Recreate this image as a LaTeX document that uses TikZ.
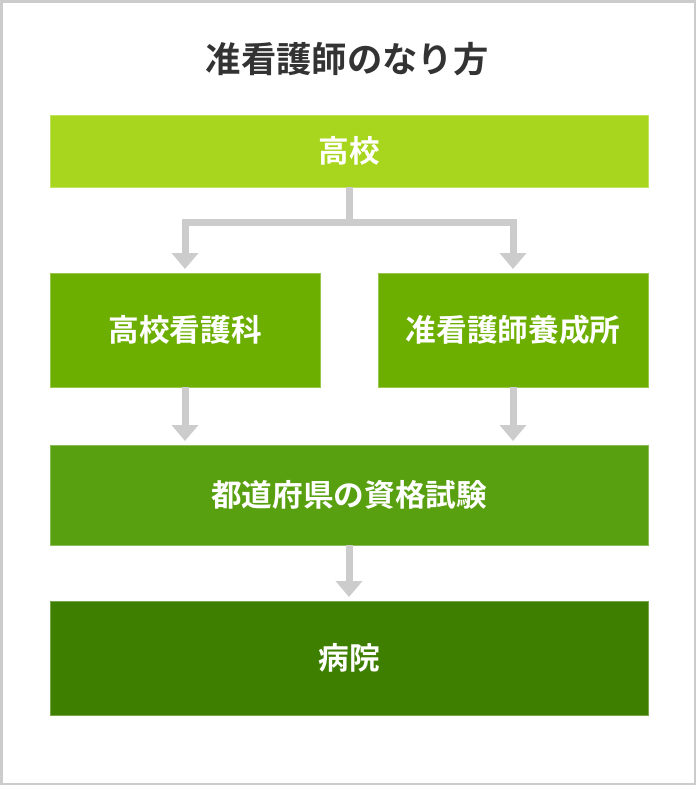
\documentclass[tikz,border=0pt]{standalone}
\usepackage{fontspec}
\setmainfont{Noto Sans CJK JP}[BoldFont={Noto Sans CJK JP Bold}]
\usetikzlibrary{positioning,arrows.meta}

\definecolor{gOne}{HTML}{A8D51E}
\definecolor{gTwo}{HTML}{6DAF00}
\definecolor{gThree}{HTML}{58A010}
\definecolor{gFour}{HTML}{3F7F00}
\definecolor{titlegray}{HTML}{333333}
\definecolor{flowgray}{HTML}{CCCCCC}

\tikzset{
  stepbox/.style={minimum width=448.5pt, inner sep=0pt, outer sep=0pt,
    text=white, font=\bfseries\fontsize{23}{26}\selectfont, line width=0.75pt},
  midbox/.style={stepbox, minimum width=202.5pt, minimum height=85.5pt},
  flow/.style={draw=flowgray, line width=5.25pt, shorten >=3pt,
    -{Triangle[width=19.5pt, length=12pt]}},
}

\begin{document}
\begin{tikzpicture}[x=0.75pt, y=-0.75pt]

    \useasboundingbox (0,0) rectangle (696,785);
    \draw[flowgray, line width=1.875pt] (1.25,1.25) rectangle (694.75,783.75);

    \node[text=titlegray, font=\bfseries\fontsize{26.5}{30}\selectfont] (title) at (347,59) {准看護師のなり方};

    \node[stepbox, fill=gOne, draw=gOne!70!white, minimum height=54pt] (koukou) at (349,151) {高校};
    \node[midbox, fill=gTwo, draw=gTwo!70!white, below=64.5pt of koukou.south west, anchor=north west] (kango) {高校看護科};
    \node[midbox, fill=gTwo, draw=gTwo!70!white, below=64.5pt of koukou.south east, anchor=north east] (yousei) {准看護師養成所};
    \node[stepbox, fill=gThree, draw=gThree!70!white, minimum height=75pt, below=43.5pt of kango.south west, anchor=north west] (shiken) {都道府県の資格試験};
    \node[stepbox, fill=gFour, draw=gFour!70!white, minimum height=85.5pt, below=42pt of shiken] (byouin) {病院};

    \coordinate[below=26.25pt of koukou.south] (fork);

    \draw[flow, -, shorten >=0pt] (koukou.south) -- (fork);
    \draw[flow] (fork) -| (kango.north);
    \draw[flow] (fork) -| (yousei.north);

    \draw[flow] (kango.south) -- (kango.south |- shiken.north);
    \draw[flow] (yousei.south) -- (yousei.south |- shiken.north);
    \draw[flow] (shiken) -- (byouin);

\end{tikzpicture}
\end{document}
